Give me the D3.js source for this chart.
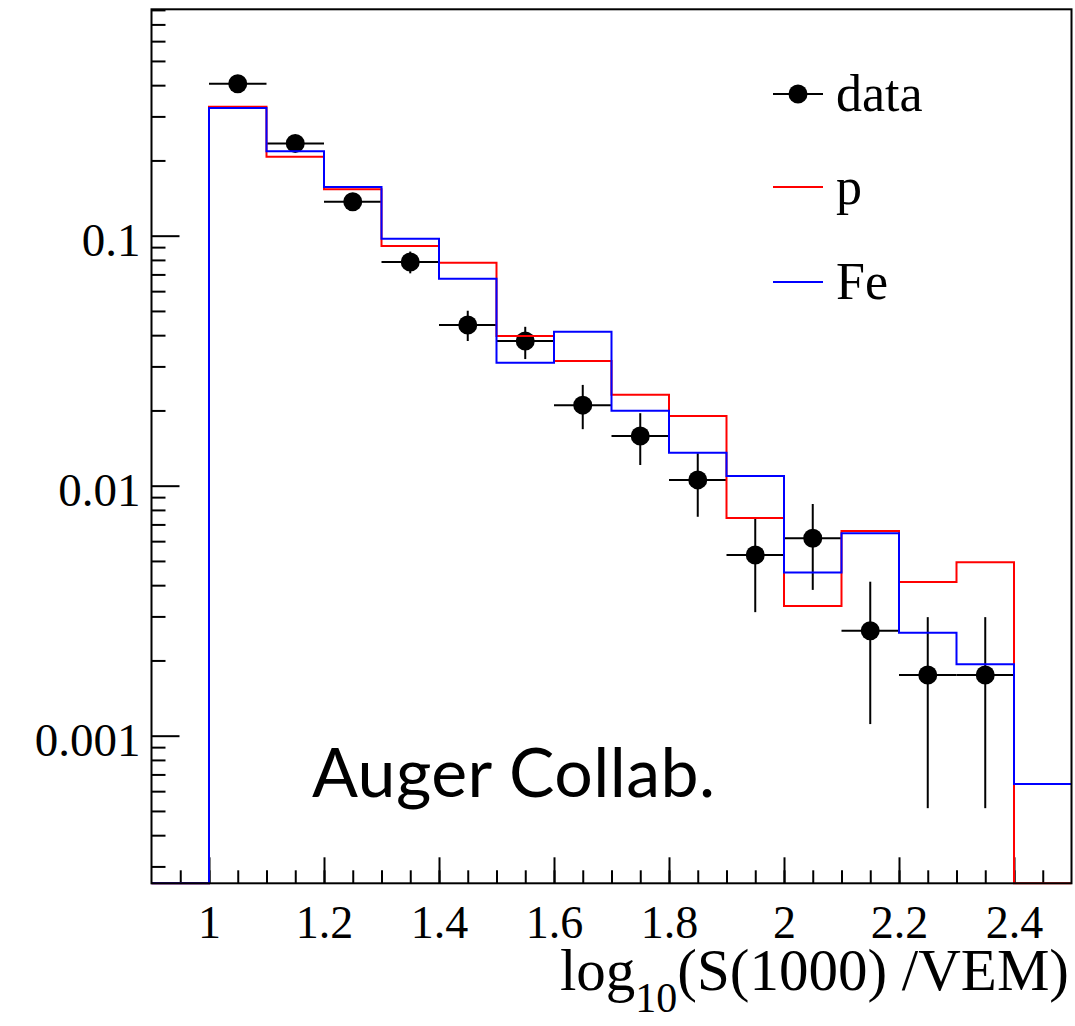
<!DOCTYPE html>
<html>
<head>
<meta charset="utf-8">
<script src="https://cdn.jsdelivr.net/npm/d3@7"></script>
<style>
  body { margin: 0; background: #fff; }
  svg text { font-family: "Liberation Serif", "Times New Roman", serif; fill: #000; }
</style>
</head>
<body>
<div id="chart"></div>
<script>
// Bin edges of the histograms (log10 S(1000)/VEM)
const binEdges = [0.9, 1.0, 1.1, 1.2, 1.3, 1.4, 1.5, 1.6, 1.7, 1.8, 1.9, 2.0, 2.1, 2.2, 2.3, 2.4, 2.5];

// Simulated fractions per bin (0 = empty bin)
const protonValues = [0, 0.328, 0.207, 0.1533, 0.0910, 0.0780, 0.0397, 0.0315, 0.0231, 0.0190, 0.00743, 0.00330, 0.00659, 0.00412, 0.00494, 0];
const ironValues = [0, 0.324, 0.2176, 0.1566, 0.0973, 0.0673, 0.0310, 0.0413, 0.01995, 0.01355, 0.01094, 0.00450, 0.00645, 0.00258, 0.00193, 0.000641];

// Measured points
const dataX = [1.05, 1.15, 1.25, 1.35, 1.45, 1.55, 1.65, 1.75, 1.85, 1.95, 2.05, 2.15, 2.25, 2.35];
const dataY = [0.405, 0.234, 0.1368, 0.0785, 0.0439, 0.0379, 0.0210, 0.0158, 0.01055, 0.00528, 0.00616, 0.00263, 0.00175, 0.00175];
const dataHi = [0.415, 0.240, 0.140, 0.0864, 0.0501, 0.0432, 0.0253, 0.0195, 0.01349, 0.00741, 0.00845, 0.00413, 0.00298, 0.00298];
const dataLo = [0.395, 0.228, 0.1336, 0.0707, 0.0379, 0.0321, 0.01683, 0.0121, 0.00751, 0.00312, 0.00383, 0.001113, 0.000513, 0.000513];

// Tick labels
const xMajorTicks = [1.0, 1.2, 1.4, 1.6, 1.8, 2.0, 2.2, 2.4];
const xMajorLabels = ["1", "1.2", "1.4", "1.6", "1.8", "2", "2.2", "2.4"];
const yMajorTicks = [0.1, 0.01, 0.001];
const yMajorLabels = ["0.1", "0.01", "0.001"];

const legendLabels = ["data", "p", "Fe"];

const width = 1075, height = 1026;
const padLeft = 151.5, padRight = 1071.5, padTop = 9.3, padBottom = 883.3;

const svg = d3.select("#chart").append("svg")
    .attr("width", width)
    .attr("height", height);

const x = d3.scaleLinear().domain([0.9, 2.5]).range([padLeft, padRight]);
const y = d3.scaleLog().domain([2.568e-4, 0.8045]).range([padBottom, padTop]).clamp(true);
const yPos = v => v > 0 ? y(v) : padBottom;

// minor ticks
const xMinor = d3.range(0, 33).map(i => 0.9 + i * 0.05).filter(v => v > 0.91 && v < 2.49);
const yMinor = [];
[0.0001, 0.001, 0.01, 0.1].forEach(dec => {
    for (let k = 2; k <= 9; k++) {
        const v = dec * k;
        if (v > y.domain()[0] && v < y.domain()[1]) yMinor.push(v);
    }
});

svg.append("g")
    .attr("transform", `translate(0,${padBottom})`)
    .call(d3.axisBottom(x).tickValues(xMinor).tickSizeInner(-13).tickSizeOuter(0).tickFormat(""))
    .call(g => g.select(".domain").remove());

svg.append("g")
    .attr("transform", `translate(0,${padBottom})`)
    .call(d3.axisBottom(x).tickValues(xMajorTicks).tickSizeInner(-26).tickSizeOuter(0)
        .tickFormat((d, i) => xMajorLabels[i]))
    .call(g => g.select(".domain").remove())
    .call(g => g.selectAll("text")
        .attr("y", 55).attr("dy", 0)
        .attr("font-size", 46));

svg.append("g")
    .attr("transform", `translate(${padLeft},0)`)
    .call(d3.axisLeft(y).tickValues(yMinor).tickSizeInner(-14).tickSizeOuter(0).tickFormat(""))
    .call(g => g.select(".domain").remove());

svg.append("g")
    .attr("transform", `translate(${padLeft},0)`)
    .call(d3.axisLeft(y).tickValues(yMajorTicks).tickSizeInner(-28).tickSizeOuter(0).tickPadding(11)
        .tickFormat((d, i) => yMajorLabels[i]))
    .call(g => g.select(".domain").remove())
    .call(g => g.selectAll("text")
        .attr("dy", "0.42em")
        .attr("font-size", 47));

svg.selectAll(".tick line").attr("stroke", "#000").attr("stroke-width", 2);

// data points with error bars
const pts = dataX.map((d, i) => ({ x: d, y: dataY[i], lo: dataLo[i], hi: dataHi[i] }));
const pg = svg.append("g");
pg.selectAll(".xerr").data(pts).enter().append("line")
    .attr("x1", d => x(d.x - 0.05)).attr("x2", d => x(d.x + 0.05))
    .attr("y1", d => y(d.y)).attr("y2", d => y(d.y))
    .attr("stroke", "#000").attr("stroke-width", 2);
pg.selectAll(".yerr").data(pts).enter().append("line")
    .attr("x1", d => x(d.x)).attr("x2", d => x(d.x))
    .attr("y1", d => y(d.hi)).attr("y2", d => y(d.lo))
    .attr("stroke", "#000").attr("stroke-width", 2);
pg.selectAll("circle").data(pts).enter().append("circle")
    .attr("cx", d => x(d.x)).attr("cy", d => y(d.y))
    .attr("r", 9.5).attr("fill", "#000");

// step histograms
function histPath(values) {
    const p = values.map((v, i) => [x(binEdges[i]), yPos(v)]);
    p.push([x(binEdges[binEdges.length - 1]), yPos(values[values.length - 1])]);
    return d3.line().curve(d3.curveStepAfter)(p);
}
svg.append("path").attr("d", histPath(protonValues))
    .attr("fill", "none").attr("stroke", "#ff0000").attr("stroke-width", 2);
svg.append("path").attr("d", histPath(ironValues))
    .attr("fill", "none").attr("stroke", "#0000ff").attr("stroke-width", 2);

// frame
svg.append("rect")
    .attr("x", padLeft).attr("y", padTop)
    .attr("width", padRight - padLeft).attr("height", padBottom - padTop)
    .attr("fill", "none").attr("stroke", "#000").attr("stroke-width", 2);

// legend
const legendY = [94, 187, 282];
const legendColors = ["#000", "#ff0000", "#0000ff"];
const lg = svg.append("g");
legendLabels.forEach((lab, i) => {
    lg.append("line")
        .attr("x1", 773).attr("x2", 823)
        .attr("y1", legendY[i]).attr("y2", legendY[i])
        .attr("stroke", legendColors[i]).attr("stroke-width", 2);
    if (i === 0) {
        lg.append("circle").attr("cx", 798).attr("cy", legendY[i]).attr("r", 9.5).attr("fill", "#000");
    }
    lg.append("text")
        .attr("x", 836).attr("y", legendY[i] + 17)
        .attr("font-size", 52)
        .text(lab);
});

// axis title
const title = svg.append("text")
    .attr("x", 1069).attr("y", 990)
    .attr("text-anchor", "end")
    .attr("font-size", 59);
title.append("tspan").text("log");
title.append("tspan").attr("font-size", 42).attr("dy", 22).text("10");
title.append("tspan").attr("dy", -22).text("(S(1000) /VEM)");

// collaboration tag
svg.append("text")
    .attr("x", 312).attr("y", 797)
    .style("font-family", "Lato, 'Open Sans', sans-serif")
    .attr("font-size", 68)
    .attr("textLength", 403)
    .text("Auger Collab.");
</script>
</body>
</html>
